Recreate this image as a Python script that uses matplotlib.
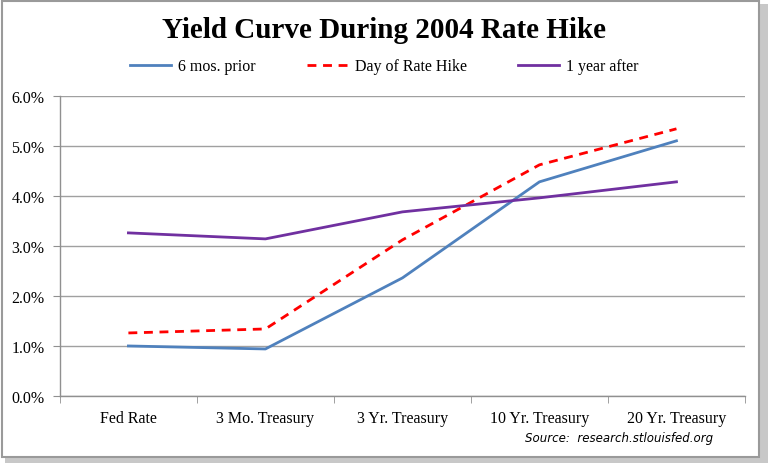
import matplotlib
matplotlib.use("Agg")
import matplotlib.pyplot as plt
from matplotlib.patches import Rectangle
from matplotlib.ticker import FixedLocator, FuncFormatter

categories = ["Fed Rate", "3 Mo. Treasury", "3 Yr. Treasury", "10 Yr. Treasury", "20 Yr. Treasury"]
six_mos_prior = [1.00, 0.94, 2.36, 4.28, 5.10]
day_of_hike = [1.26, 1.34, 3.12, 4.62, 5.34]
one_year_after = [3.26, 3.14, 3.68, 3.96, 4.28]
y_ticks = [0, 1, 2, 3, 4, 5, 6]

serif = ["Liberation Serif", "DejaVu Serif"]

fig = plt.figure(figsize=(7.68, 4.64), dpi=100)
fig.patch.set_facecolor("white")

# frame with shadow
fig.patches.append(Rectangle((0.006, 0.0), 0.994, 0.99, transform=fig.transFigure,
                             facecolor="#c8c8c8", edgecolor="none", zorder=-2))
fig.patches.append(Rectangle((0.003, 0.012), 0.985, 0.983, transform=fig.transFigure,
                             facecolor="white", edgecolor="#9a9a9a", lw=1.5, zorder=-1))

ax = fig.add_axes([0.078, 0.1444, 0.892, 0.647])
ax.set_zorder(2)
ax.patch.set_alpha(0)
x = list(range(len(categories)))
l1, = ax.plot(x, six_mos_prior, color="#4F81BD", lw=2.0, label="6 mos. prior")
l2, = ax.plot(x, day_of_hike, color="#FF0000", lw=2.0, ls=(0, (3.2, 2.4)), label="Day of Rate Hike")
l3, = ax.plot(x, one_year_after, color="#7030A0", lw=2.0, label="1 year after")

ax.set_xlim(-0.5, len(categories) - 0.5)
ax.set_ylim(0, 6)
ax.set_yticks(y_ticks)
ax.yaxis.set_major_formatter(FuncFormatter(lambda v, p: f"{v:.1f}%"))
ax.grid(axis="y", color="#a0a0a0", lw=1.0)
ax.set_axisbelow(True)

ax.set_xticks(x)
ax.set_xticklabels(categories, fontfamily=serif, fontsize=11.5)
ax.xaxis.set_minor_locator(FixedLocator([i - 0.5 for i in range(len(categories) + 1)]))
ax.tick_params(axis="x", which="major", length=0, pad=10)
ax.tick_params(axis="x", which="minor", length=5, color="#909090", direction="out")
ax.tick_params(axis="y", length=5, color="#909090", direction="out", pad=6)
for lab in ax.get_yticklabels():
    lab.set_fontfamily(serif)
    lab.set_fontsize(11.5)

for s in ["top", "right"]:
    ax.spines[s].set_visible(False)
for s in ["left", "bottom"]:
    ax.spines[s].set_color("#909090")
    ax.spines[s].set_linewidth(1.0)

fig.text(0.5, 0.935, "Yield Curve During 2004 Rate Hike", ha="center", va="center",
         fontfamily=serif, fontweight="bold", fontsize=21)

fig.legend(handles=[l1, l2, l3], loc="center", bbox_to_anchor=(0.5, 0.855), ncol=3,
           frameon=False, prop={"family": serif, "size": 11.5}, handlelength=2.6,
           handletextpad=0.4, columnspacing=3.2)

fig.text(0.928, 0.055, "Source:  research.stlouisfed.org", ha="right", va="center",
         fontstyle="italic", fontfamily="DejaVu Sans", fontsize=8.5)

fig.savefig("out.png", dpi=100, facecolor="white")
